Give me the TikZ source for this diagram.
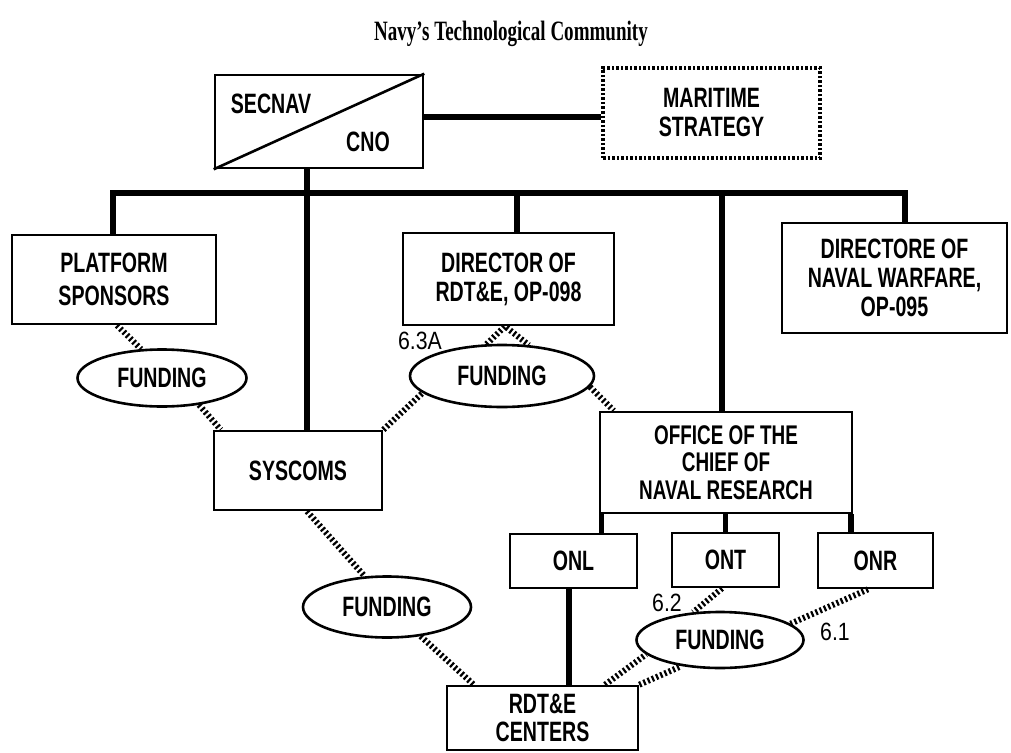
\documentclass[tikz,border=0pt]{standalone}
\usepackage{fontspec}
\newfontfamily\condfont{Liberation Sans}[FakeStretch=0.7]
\newfontfamily\labfont{Liberation Sans}[FakeStretch=0.85]
\newfontfamily\titlefont{Liberation Serif}[FakeStretch=0.68]
\usetikzlibrary{shapes.geometric}
\begin{document}
\begin{tikzpicture}[x=1pt,y=-1pt,
  every node/.style={font=\condfont\bfseries\fontsize{28}{29}\selectfont, align=center, inner sep=0pt},
  box/.style={draw, line width=2.6pt, rectangle},
  fund/.style={draw, ellipse, line width=2.6pt},
  heavy/.style={line width=5.5pt},
  dotline/.style={line width=6pt, dash pattern=on 2.2pt off 2.4pt},
  numlab/.style={font=\labfont\fontsize{25}{26}\selectfont}
]
\useasboundingbox (0,0) rectangle (1011,752);

% title
\node[font=\titlefont\bfseries\fontsize{28}{30}\selectfont] (title) at (511,34) {Navy’s Technological Community};

% boxes
\node[box, minimum width=208pt, minimum height=93pt] (secnav) at (319,121.5) {};
\draw[line width=2.6pt] (secnav.south west) -- (secnav.north east);
\node (secnavlab) at (271,104) {SECNAV};
\node (cnolab) at (368,142) {CNO};

\node[box, line width=3.5pt, dash pattern=on 2.5pt off 2pt, minimum width=217pt, minimum height=90pt] (maritime) at (711.5,113) {MARITIME\\STRATEGY};

\node[box, minimum width=204pt, minimum height=89pt, font=\condfont\bfseries\fontsize{28}{33}\selectfont] (platform) at (114,279.5) {PLATFORM\\SPONSORS};
\node[box, minimum width=211pt, minimum height=92pt] (director) at (508.5,279) {DIRECTOR OF\\RDT\&E, OP-098};
\node[box, minimum width=225pt, minimum height=110pt] (directore) at (894.5,278) {DIRECTORE OF\\NAVAL WARFARE,\\OP-095};
\node[box, minimum width=168pt, minimum height=79pt] (syscoms) at (298,470.5) {SYSCOMS};
\node[box, minimum width=252pt, minimum height=101pt, font=\condfont\bfseries\fontsize{27}{27.5}\selectfont] (office) at (726,462.5) {OFFICE OF THE\\CHIEF OF\\NAVAL RESEARCH};
\node[box, minimum width=127pt, minimum height=54pt] (onl) at (573.5,561) {ONL};
\node[box, minimum width=107pt, minimum height=54pt] (ont) at (725.5,560) {ONT};
\node[box, minimum width=115pt, minimum height=55pt] (onr) at (875.5,560.5) {ONR};
\node[box, minimum width=191pt, minimum height=64pt, font=\condfont\bfseries\fontsize{28}{28}\selectfont] (rdte) at (542.5,718) {RDT\&E\\CENTERS};

% funding ellipses
\node[fund, minimum width=169pt, minimum height=57pt] (f1) at (162,378) {FUNDING};
\node[fund, minimum width=184pt, minimum height=62pt] (f2) at (502,376) {FUNDING};
\node[fund, minimum width=168pt, minimum height=61pt] (f3) at (387,607) {FUNDING};
\node[fund, minimum width=167pt, minimum height=56pt] (f4) at (720,640) {FUNDING};

% labels
\node[numlab] (l63) at (420,341) {6.3A};
\node[numlab] (l62) at (667,603) {6.2};
\node[numlab] (l61) at (835,632) {6.1};

% solid tree
\coordinate (busL) at (113,193);
\coordinate (busR) at (905,193);
\coordinate (busS) at (307,193);
\draw[heavy] ([yshift=4.5pt]secnav.east) -- ([yshift=4.5pt]secnav.east -| maritime.west);
\draw[heavy] ([xshift=-12pt]secnav.south) -- (busS);
\draw[heavy] (busL |- platform.north) -- (busL) -- (busR) -- (busR |- directore.north);
\draw[heavy] (busS) -- (busS |- syscoms.north);
\draw[heavy] ([xshift=8.5pt]director.north) -- ([xshift=8.5pt]director.north |- busS);
\draw[heavy] ([xshift=-4pt]office.north) -- ([xshift=-4pt]office.north |- busS);
\draw[heavy] ([xshift=3pt]office.south west) -- ([xshift=3pt]office.south west |- onl.north);
\draw[heavy] (ont.north |- office.south) -- (ont.north);
\draw[heavy] ([xshift=-2.5pt]office.south east) -- ([xshift=-2.5pt]office.south east |- onr.north);
\draw[heavy] ([xshift=-4.5pt]onl.south) -- ([xshift=-4.5pt]onl.south |- rdte.north);

% dotted funding links
\draw[dotline] ([xshift=3pt]platform.south) -- (f1.126);
\draw[dotline] (f1.-36) -- ([xshift=8pt]syscoms.north west);
\draw[dotline] (syscoms.north east) -- (f2.192);
\draw[dotline] (f2.116) -- ([xshift=-3.5pt]director.south) -- (f2.49);
\draw[dotline] (f2.-7) -- ([xshift=15pt]office.north west);
\draw[dotline] ([xshift=9pt]syscoms.south) -- (f3.126);
\draw[dotline] (f3.-41) -- ([xshift=28pt]rdte.north west);
\draw[dotline] ([xshift=-3.5pt]ont.south) -- (f4.134);
\draw[dotline] ([xshift=-7.5pt]onr.south) -- (f4.13);
\draw[dotline] ([xshift=62.5pt]rdte.north) -- (f4.191);
\draw[dotline] (rdte.north east) -- (f4.214);
\end{tikzpicture}
\end{document}
